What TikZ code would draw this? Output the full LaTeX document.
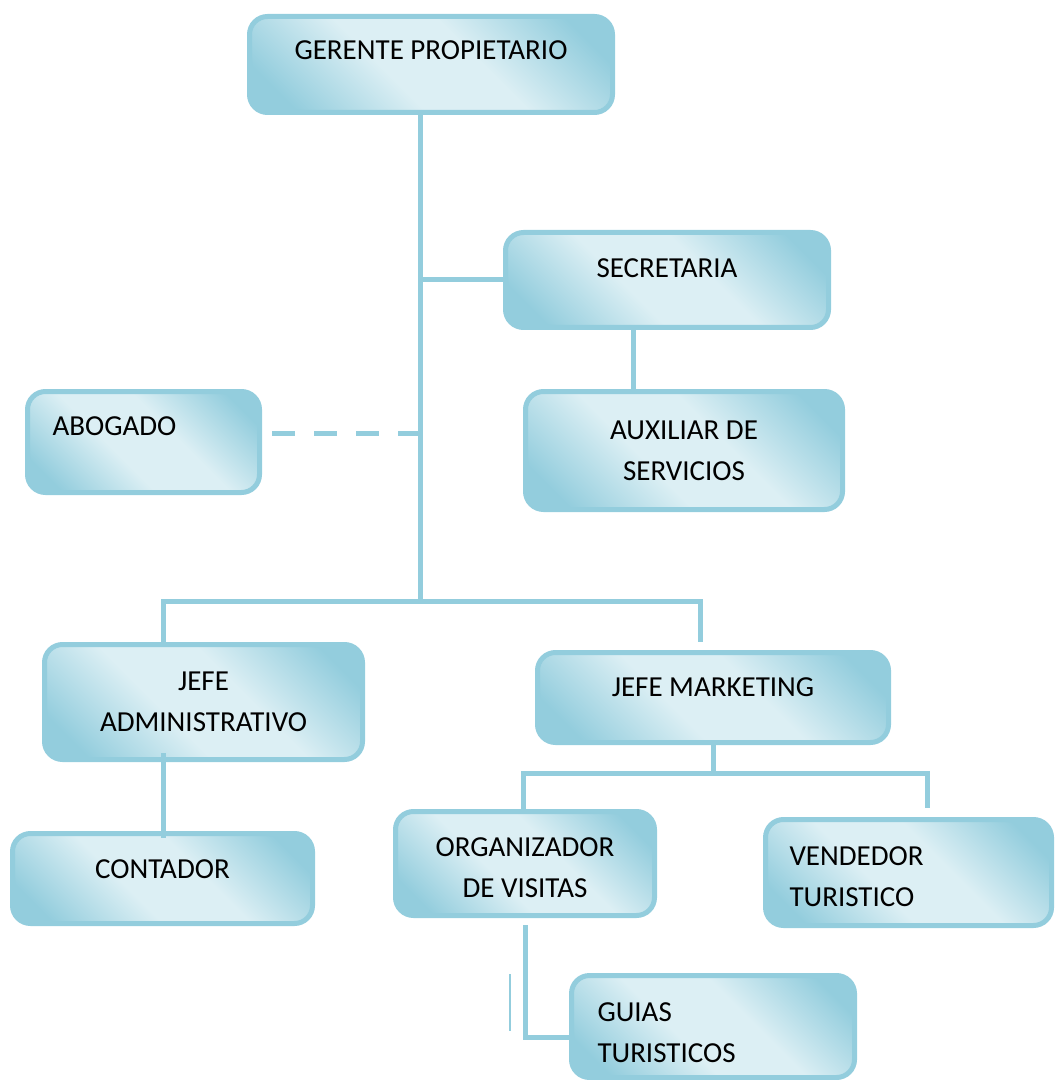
\documentclass[tikz,border=0pt]{standalone}
\usepackage{fontspec}
\setmainfont{Carlito}
\usetikzlibrary{positioning}
\definecolor{aqua}{HTML}{93CDDD}
\definecolor{aqualight}{HTML}{DCEFF4}
\pgfdeclareverticalshading{aquabox}{100bp}{color(0bp)=(aqua); color(22bp)=(aqua); color(42bp)=(aqualight); color(58bp)=(aqualight); color(78bp)=(aqua); color(100bp)=(aqua)}
\tikzstyle{every node}=[font=\fontsize{14.5pt}{20.5pt}\selectfont]
\tikzstyle{post}=[draw=aqua,line width=2.5pt,rounded corners=9pt,rectangle,shading=aquabox,shading angle=-45,align=center]
\tikzstyle{link}=[draw=aqua,line width=2.5pt]
\tikzset{raised/.style={inner ysep=0pt,text height=10pt,text depth=#1}}

\begin{document}
\begin{tikzpicture}[x=0.5pt,y=-0.5pt]
    \useasboundingbox (0,0) rectangle (1055,1080);
    \node[post, minimum width=181.5pt, minimum height=48pt, raised=15.2pt] (gerente) at (431,64.5) {GERENTE PROPIETARIO};
    \node[post, minimum width=161.5pt, minimum height=47.5pt, raised=12.7pt] (secretaria) at (667,280) {SECRETARIA};
    \node[post, minimum width=158.5pt, minimum height=59pt] (auxiliar) at (684,450.5) {AUXILIAR DE\\SERVICIOS};
    \node[post, align=left, inner xsep=12.5pt, text width=91pt, minimum height=50.5pt, raised=16.7pt] (abogado) at (143.5,442) {ABOGADO};
    \node[post, minimum width=159pt, minimum height=57.5pt] (jefeadm) at (203.5,702) {JEFE\\ADMINISTRATIVO};
    \node[post, minimum width=175.5pt, minimum height=45pt, raised=10.7pt] (jefemkt) at (713,697.5) {JEFE MARKETING};
    \node[post, minimum width=150pt, minimum height=45pt, raised=10.2pt] (contador) at (162.5,878.5) {CONTADOR};
    \node[post, align=flush center, text width=110pt, minimum width=129.5pt, minimum height=52pt, raised=17.2pt] (organizador) at (525,863.5) {ORGANIZADOR\\DE VISITAS};
    \node[post, align=left, inner xsep=12pt, text width=119pt, minimum height=53pt, raised=17.2pt] (vendedor) at (908.5,872.5) {VENDEDOR\\TURISTICO};
    \node[post, align=left, inner xsep=13pt, text width=115.5pt, minimum height=51pt, raised=15.2pt] (guias) at (713,1026.5) {GUIAS\\TURISTICOS};
    \coordinate (trunk) at (420,601);
    \coordinate (busL) at (163,601);
    \coordinate (busR) at (700,601);
    \coordinate (mktL) at (523,773);
    \coordinate (mktR) at (927,773);
    \coordinate (bend) at (525,1037);
    \coordinate (tickA) at (510,974);
    \coordinate (tickB) at (510,1031);
    \draw[link] (gerente.south -| trunk) -- (trunk);
    \draw[link] (secretaria.west) -- (secretaria.west -| trunk);
    \draw[link] ([xshift=-17pt]secretaria.south) -- ([xshift=-17pt]secretaria.south |- auxiliar.north);
    \draw[link, dash pattern=on 11.5pt off 9.5pt] ([xshift=5pt,yshift=4.5pt]abogado.east) -- ([yshift=4.5pt]abogado.east -| trunk);
    \draw[link] (busL |- jefeadm.north) -- (busL) -- (busR) -- ([yshift=4pt]busR |- jefemkt.north);
    \draw[link] ([yshift=4.5pt]jefeadm.south -| busL) -- ([yshift=-3.5pt]contador.north -| busL);
    \draw[link] (jefemkt.south) -- (jefemkt.south |- mktL);
    \draw[link] (mktL |- organizador.north) -- (mktL) -- (mktR) -- ([yshift=4.5pt]mktR |- vendedor.north);
    \draw[link] ([yshift=-3.5pt]organizador.south -| bend) -- (bend) -- (bend -| guias.west);
    \draw[aqua, line width=0.8pt] (tickA) -- (tickB);
\end{tikzpicture}
\end{document}
